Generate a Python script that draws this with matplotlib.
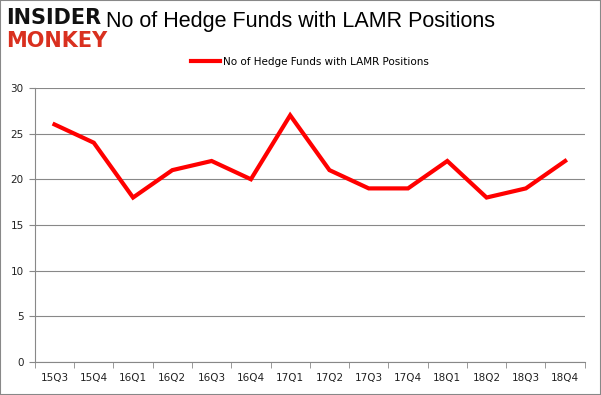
import matplotlib.pyplot as plt
from matplotlib.patches import Rectangle

# Data
quarters = ['15Q3', '15Q4', '16Q1', '16Q2', '16Q3', '16Q4', '17Q1',
            '17Q2', '17Q3', '17Q4', '18Q1', '18Q2', '18Q3', '18Q4']
funds = [26, 24, 18, 21, 22, 20, 27, 21, 19, 19, 22, 18, 19, 22]
y_ticks = [0, 5, 10, 15, 20, 25, 30]

fig = plt.figure(figsize=(6.01, 3.95), dpi=100)
ax = fig.add_axes([0.058, 0.0835, 0.915, 0.694])

x = list(range(len(quarters)))
ax.plot(x, funds, color='#ff0000', linewidth=3, solid_joinstyle='miter',
        label='No of Hedge Funds with LAMR Positions')

ax.set_xlim(-0.5, len(quarters) - 0.5)
ax.set_ylim(0, 30)
ax.set_yticks(y_ticks)
ax.set_xticks(x)
ax.set_xticklabels(quarters)
# category separator ticks like the original
ax.set_xticks([i - 0.5 for i in range(len(quarters) + 1)], minor=True)
ax.tick_params(axis='x', which='major', length=0, pad=8, labelsize=7.5, colors='#222222')
ax.tick_params(axis='x', which='minor', length=4, color='#888888')
ax.tick_params(axis='y', length=4, color='#888888', labelsize=7.5, colors='#222222', pad=4)

ax.grid(axis='y', color='#888888', linewidth=0.8)
ax.set_axisbelow(True)
for side in ['top', 'right']:
    ax.spines[side].set_visible(False)
for side in ['left', 'bottom']:
    ax.spines[side].set_color('#888888')

ax.legend(loc='center', bbox_to_anchor=(0.5, 1.095), frameon=False,
          fontsize=7.5, handlelength=2.8, handletextpad=0.2)

fig.text(0.5, 0.945, 'No of Hedge Funds with LAMR Positions', ha='center', va='center',
         fontsize=15.5, family='Liberation Sans')

# logo
fig.text(0.01, 0.955, 'INSIDER', fontsize=15, fontweight='bold', color='#111111',
         va='center', ha='left', family='DejaVu Sans')
fig.text(0.01, 0.895, 'MONKEY', fontsize=15, fontweight='bold', color='#d9301f',
         va='center', ha='left', family='DejaVu Sans')

fig.patches.append(Rectangle((0, 0), 1, 1, transform=fig.transFigure, fill=False,
                             edgecolor='#888888', linewidth=1.5))

fig.savefig('out.png', dpi=100)
